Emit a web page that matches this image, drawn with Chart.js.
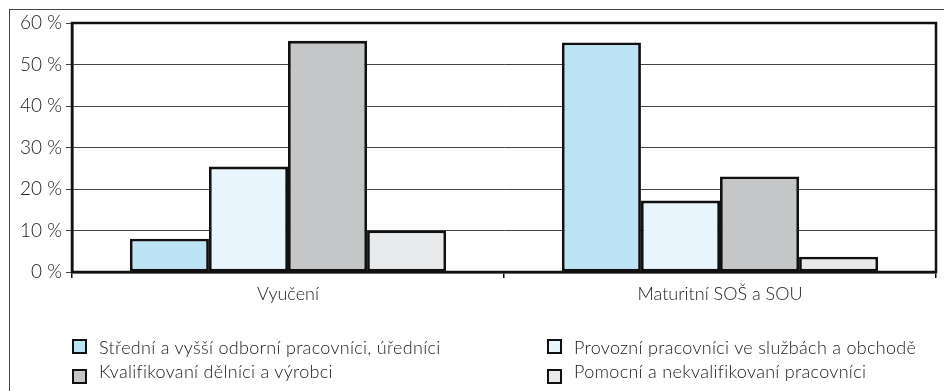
<!DOCTYPE html>
<html>
<head>
<meta charset="utf-8">
<script src="https://cdn.jsdelivr.net/npm/chart.js@4"></script>
<style>
  body { margin: 0; background: #fff; }
  #wrap { position: relative; width: 944px; height: 391px; overflow: hidden; }
  #frame { position: absolute; left: 9px; top: 9px; width: 960px; height: 400px;
           border-top: 1.5px solid #444; border-left: 1.5px solid #444; }
  canvas { position: absolute; left: 0; top: 0; }
  .leg { position: absolute; font: 300 18px Lato, sans-serif; color: #1a1a1a; white-space: nowrap; letter-spacing: 0.3px; }
  .leg i { position: absolute; left: 0; width: 11px; height: 11px; border: 2.5px solid #111; }
  .leg span { position: absolute; left: 27px; top: 0; }
</style>
</head>
<body>
<div id="wrap">
  <div id="frame"></div>
  <canvas id="myChart" width="944" height="391"></canvas>
  <div id="legend"></div>
</div>
<script>
const categories = ["Vyučení", "Maturitní SOŠ a SOU"];
const seriesNames = [
  "Střední a vyšší odborní pracovníci, úředníci",
  "Provozní pracovníci ve službách a obchodě",
  "Kvalifikovaní dělníci a výrobci",
  "Pomocní a nekvalifikovaní pracovníci"
];
const stredni = [8, 55.3];
const provozni = [25.4, 17.2];
const kvalif = [55.7, 23];
const pomocni = [10, 3.7];
const colors = ["#bde4f4", "#e8f5fc", "#c5c6c8", "#e9eaec"];
const yTicks = [0, 10, 20, 30, 40, 50, 60];

const font = "Lato";

// thick frame round the plot area
const boxPlugin = {
  id: "box",
  afterDraw(chart) {
    const a = chart.chartArea, c = chart.ctx;
    c.save();
    c.strokeStyle = "#111";
    c.lineWidth = 2.5;
    c.strokeRect(a.left, a.top, a.right - a.left, a.bottom - a.top);
    c.restore();
  }
};

const values = [stredni, provozni, kvalif, pomocni];
const ctx = document.getElementById("myChart").getContext("2d");
const myChart = new Chart(ctx, {
  type: "bar",
  data: {
    labels: categories,
    datasets: values.map((v, i) => ({
      label: seriesNames[i],
      data: v,
      backgroundColor: colors[i],
      borderColor: "#111",
      borderWidth: 2.8,
      borderSkipped: false,
      categoryPercentage: 0.732,
      barPercentage: 1
    }))
  },
  options: {
    responsive: false,
    animation: false,
    layout: { padding: { left: 0, top: 23, right: 8, bottom: 79 } },
    plugins: { legend: { display: false }, tooltip: { enabled: false } },
    scales: {
      x: {
        grid: { drawOnChartArea: false, tickLength: 6, color: "#111", lineWidth: 1.5 },
        border: { display: true, color: "#111", width: 2.5 },
        ticks: { color: "#222", font: { family: font, size: 18, weight: 300 }, padding: 5 },
        afterFit(s) { s.height = 40; }
      },
      y: {
        min: 0, max: 60,
        afterBuildTicks(s) { s.ticks = yTicks.map(v => ({ value: v })); },
        grid: { color: "#444", lineWidth: 1, tickLength: 6 },
        border: { display: true, color: "#111", width: 2.5 },
        ticks: {
          color: "#222", padding: 4,
          font: { family: font, size: 19, weight: 300 },
          callback: v => v + " %"
        },
        afterFit(s) { s.width = 72; }
      }
    }
  },
  plugins: [boxPlugin]
});

// legend in two columns, built from the same series
const legPos = [[72, 336], [547, 336], [72, 360], [547, 360]];
const order = [0, 1, 2, 3];
const leg = document.getElementById("legend");
order.forEach((k, n) => {
  const d = document.createElement("div");
  d.className = "leg";
  d.style.left = legPos[n][0] + "px";
  d.style.top = legPos[n][1] + "px";
  d.innerHTML = '<i style="background:' + colors[k] + ';top:' + (n < 2 ? 3 : 9) + 'px"></i><span>' + seriesNames[k] + '</span>';
  leg.appendChild(d);
});
</script>
</body>
</html>
